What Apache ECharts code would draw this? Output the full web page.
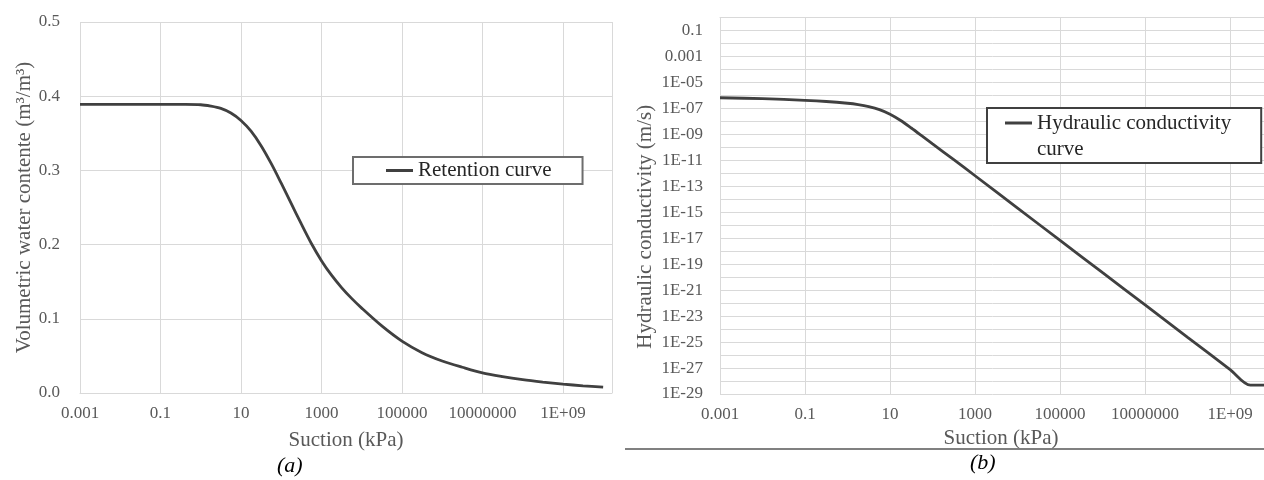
<!DOCTYPE html>
<html>
<head>
<meta charset="utf-8">
<script src="https://cdn.jsdelivr.net/npm/echarts@6/dist/echarts.min.js"></script>
<style>
html,body{margin:0;padding:0;background:#fff;}
#c{width:1264px;height:480px;}
</style>
</head>
<body>
<div id="c"></div>
<script>
// ---- data ----
// (a) retention curve: suction (kPa) vs volumetric water content (m3/m3)
const suctionA = [0.001, 0.01, 0.1, 0.316, 1, 1.78, 3.16, 5.62, 10, 17.8, 31.6, 56.2, 100, 178, 316, 562,
  1000, 1780, 3160, 5620, 10000, 31600, 1e5, 3.16e5, 1e6, 3.16e6, 1e7, 3.16e7, 1e8, 3.16e8, 1e9, 3.16e9, 1e10];
const thetaA = [0.389, 0.389, 0.389, 0.3889, 0.3885, 0.3866, 0.3835, 0.3773, 0.3673, 0.3528, 0.3333, 0.3094, 0.2828, 0.2553, 0.2278, 0.2015,
  0.1784, 0.1588, 0.1421, 0.1275, 0.1144, 0.0904, 0.0699, 0.0544, 0.0432, 0.0347, 0.027, 0.022, 0.018, 0.0148, 0.012, 0.0097, 0.0078];

// (b) hydraulic conductivity curve: suction (kPa) vs K (m/s)
const suctionB = [0.001, 0.01, 0.1, 0.316, 1, 1.78, 3.16, 5.62, 10, 17.8, 31.6, 56.2, 100, 316, 1000,
  1e4, 1e5, 1e6, 1e7, 1e8, 1e9, 3.0e9, 1e10];
const condB = [6.61e-7, 5.56e-7, 4.17e-7, 3.40e-7, 2.48e-7, 1.95e-7, 1.36e-7, 7.98e-8, 3.56e-8, 1.16e-8, 3.08e-9, 7.64e-10, 1.86e-10, 1.11e-11, 6.46e-13,
  2.09e-15, 6.76e-18, 2.19e-20, 7.24e-23, 2.34e-25, 7.59e-28, 4.79e-29, 4.79e-29];

// axis ranges and tick labels
const suctionMin = 0.001;
const suctionMax = 1.66e10;
const xTickValues = [0.001, 0.1, 10, 1000, 100000, 10000000, 1e9];
const xTickLabels = ['0.001', '0.1', '10', '1000', '100000', '10000000', '1E+09'];
const yTickValuesA = [0, 0.1, 0.2, 0.3, 0.4, 0.5];
const yTickLabelsA = ['0.0', '0.1', '0.2', '0.3', '0.4', '0.5'];
const condMin = 1e-29;
const condMax = 1;
const yTickValuesB = [1e-29, 1e-27, 1e-25, 1e-23, 1e-21, 1e-19, 1e-17, 1e-15, 1e-13, 1e-11, 1e-9, 1e-7, 1e-5, 1e-3, 1e-1];
const yTickLabelsB = ['1E-29', '1E-27', '1E-25', '1E-23', '1E-21', '1E-19', '1E-17', '1E-15', '1E-13', '1E-11', '1E-09', '1E-07', '1E-05', '0.001', '0.1'];

const seriesNameA = 'Retention curve';
const seriesNameB = 'Hydraulic conductivity curve';

// ---- chart ----
const FONT = '"Liberation Serif", "Times New Roman", serif';
const GRID = '#d9d9d9';
const TXT = '#595959';
const LINE = '#404040';

const lg = v => Math.log10(v);

function decadeFormatter(values, labels) {
  const exps = values.map(v => Math.round(lg(v)));
  return function (v) {
    const e = Math.round(v);
    if (Math.abs(v - e) > 1e-6) return '';
    const i = exps.indexOf(e);
    return i < 0 ? '' : labels[i];
  };
}
function linearFormatter(values, labels) {
  return function (v) {
    for (let i = 0; i < values.length; i++) {
      if (Math.abs(values[i] - v) < 1e-9) return labels[i];
    }
    return '';
  };
}

const dataA = suctionA.map((s, i) => [lg(s), thetaA[i]]);
const dataB = suctionB.map((s, i) => [lg(s), lg(condB[i])]);

const axisNameStyle = { fontFamily: FONT, fontSize: 21, color: TXT };
const labelStyle = { fontFamily: FONT, fontSize: 17, color: TXT };

const chart = echarts.init(document.getElementById('c'), null, { renderer: 'canvas' });
chart.setOption({
  animation: false,
  backgroundColor: '#fff',
  grid: [
    { left: 80, top: 22, width: 532, height: 371, containLabel: false, outerBoundsMode: 'none' },
    { left: 720, top: 17.5, width: 562, height: 376.5, containLabel: false, outerBoundsMode: 'none' }
  ],
  xAxis: [
    {
      type: 'value', gridIndex: 0,
      min: Math.round(lg(suctionMin)), max: lg(suctionMax), interval: 2,
      axisLine: { show: true, lineStyle: { color: GRID, width: 1 } },
      axisTick: { show: false },
      axisLabel: Object.assign({ margin: 12, formatter: decadeFormatter(xTickValues, xTickLabels), showMaxLabel: false }, labelStyle),
      splitLine: { show: true, lineStyle: { color: GRID, width: 1 } },
      name: 'Suction (kPa)', nameLocation: 'middle', nameGap: 37,
      nameTextStyle: axisNameStyle
    },
    {
      type: 'value', gridIndex: 1,
      min: Math.round(lg(suctionMin)), max: lg(suctionMax), interval: 2,
      axisLine: { show: true, lineStyle: { color: GRID, width: 1 } },
      axisTick: { show: false },
      axisLabel: Object.assign({ margin: 12, formatter: decadeFormatter(xTickValues, xTickLabels), showMaxLabel: false }, labelStyle),
      splitLine: { show: true, lineStyle: { color: GRID, width: 1 } },
      name: 'Suction (kPa)', nameLocation: 'middle', nameGap: 32,
      nameTextStyle: axisNameStyle
    }
  ],
  yAxis: [
    {
      type: 'value', gridIndex: 0,
      min: yTickValuesA[0], max: yTickValuesA[yTickValuesA.length - 1], interval: 0.1,
      axisLine: { show: false },
      axisTick: { show: false },
      axisLabel: Object.assign({ margin: 20, formatter: linearFormatter(yTickValuesA, yTickLabelsA) }, labelStyle),
      splitLine: { show: true, lineStyle: { color: GRID, width: 1 } },
      name: 'Volumetric water contente (m\u00b3/m\u00b3)', nameLocation: 'middle', nameGap: 38,
      nameTextStyle: axisNameStyle
    },
    {
      type: 'value', gridIndex: 1,
      min: Math.round(lg(condMin)), max: Math.round(lg(condMax)), interval: 1,
      axisLine: { show: false },
      axisTick: { show: false },
      axisLabel: Object.assign({ margin: 17, formatter: decadeFormatter(yTickValuesB, yTickLabelsB) }, labelStyle),
      splitLine: { show: true, lineStyle: { color: GRID, width: 1 } },
      name: 'Hydraulic conductivity (m/s)', nameLocation: 'middle', nameGap: 64,
      nameTextStyle: Object.assign({ padding: [0, 42, 0, 0] }, axisNameStyle)
    }
  ],
  legend: [
    {
      data: [seriesNameA],
      left: 353, top: 157,
      icon: 'rect', itemWidth: 27, itemHeight: 3,
      padding: [3, 31, 3, 33],
      borderColor: '#6d6d6d', borderWidth: 2, backgroundColor: '#fff',
      textStyle: { fontFamily: FONT, fontSize: 21, color: '#262626' },
      selectedMode: false
    },
    {
      data: [seriesNameB],
      left: 987, top: 108,
      icon: 'path://M0,0H27V3H0Z M26.99,28.99H27V29H26.99Z',
      itemWidth: 27, itemHeight: 29, symbolKeepAspect: false,
      padding: [2, 30, 1, 18],
      borderColor: '#404040', borderWidth: 2, backgroundColor: '#fff',
      formatter: name => name.replace(' curve', '\ncurve'),
      textStyle: { fontFamily: FONT, fontSize: 21, lineHeight: 26, color: '#262626' },
      selectedMode: false
    }
  ],
  series: [
    {
      name: seriesNameA, type: 'line', xAxisIndex: 0, yAxisIndex: 0,
      data: dataA, showSymbol: false, smooth: 0.3,
      color: LINE, lineStyle: { color: LINE, width: 2.8 }, itemStyle: { color: LINE }
    },
    {
      name: seriesNameB, type: 'line', xAxisIndex: 1, yAxisIndex: 1,
      data: dataB, showSymbol: false, smooth: 0.3,
      color: LINE, lineStyle: { color: LINE, width: 2.8 }, itemStyle: { color: LINE }
    }
  ],
  graphic: [
    { type: 'text', left: 277, top: 455, style: { text: '(a)', font: 'italic 22px ' + FONT, fill: '#000' } },
    { type: 'text', left: 970, top: 452, style: { text: '(b)', font: 'italic 22px ' + FONT, fill: '#000' } },
    { type: 'line', shape: { x1: 625, y1: 449, x2: 1264, y2: 449 }, style: { stroke: '#808080', lineWidth: 2 } }
  ]
});
</script>
</body>
</html>
